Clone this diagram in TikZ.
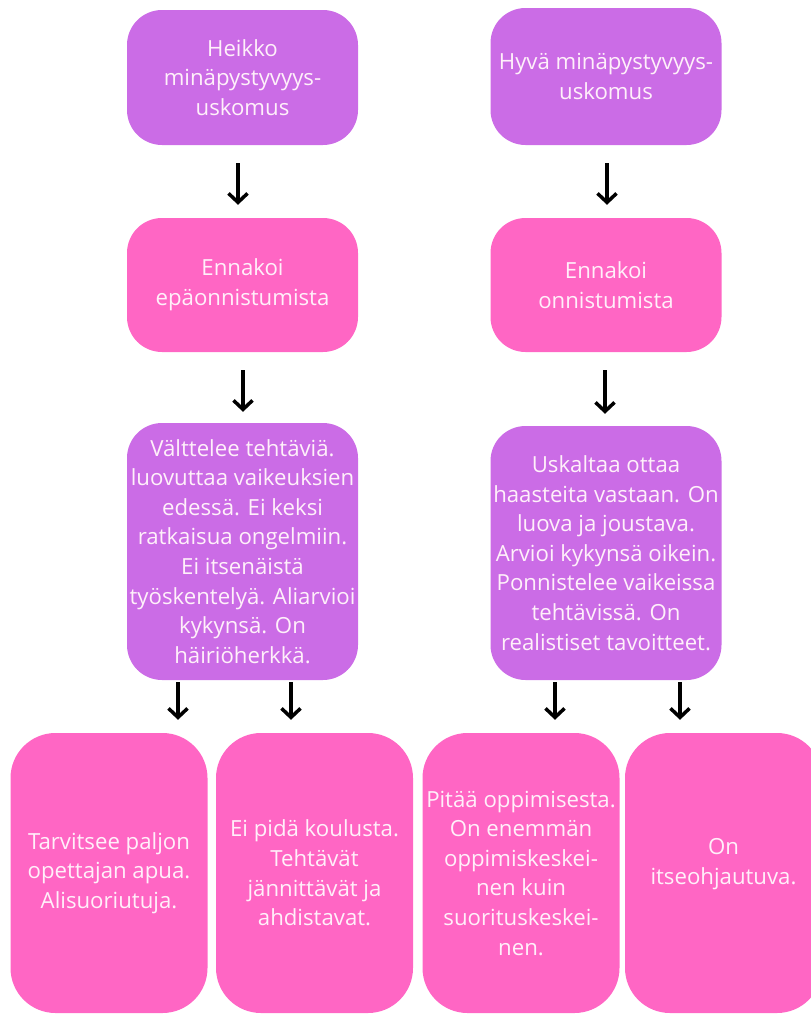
\documentclass[tikz,border=0pt]{standalone}
\usepackage{fontspec}
\setmainfont{Open Sans}
\usepackage{tikz}
\usetikzlibrary{arrows.meta}
\usetikzlibrary{positioning}
\definecolor{violetti}{RGB}{203,108,230}
\definecolor{pinkki}{RGB}{255,102,196}
\definecolor{teksti}{RGB}{255,240,250}
\newcommand{\laatikkofont}{\fontsize{22.2pt}{29.6pt}\selectfont\lineskiplimit=-20pt\relax}
\tikzstyle{tran}  = [
    draw,
    ->,
    >={Straight Barb[length=9pt,width=19pt]},
    line width=3.5pt
]
\tikzstyle{laatikko}  = [
    shape=rectangle,
    rounded corners=35pt,
    text=teksti,
    align=center,
    inner sep=0pt,
    font=\laatikkofont
]
\tikzstyle{uskomus} = [laatikko, fill=violetti, minimum width=231pt]
\tikzstyle{ennakko} = [laatikko, fill=pinkki, minimum width=231pt, minimum height=134pt]
\tikzstyle{seuraus} = [laatikko, fill=pinkki, rounded corners=45pt, minimum width=197pt, minimum height=280pt]

\begin{document}
\begin{tikzpicture}[x=1pt, y=-1pt]
\useasboundingbox (0,0) rectangle (811,1015);

\node[uskomus, minimum height=135pt] (heikko)  at (242.5,77.5) {Heikko\\minäpystyvyys-\\uskomus};
\node[uskomus, minimum height=137pt] (hyva)    at (606,76.5)   {Hyvä minäpystyvyys-\\uskomus};

\node[ennakko] (epaon)  at (242.5,285) {Ennakoi\\epäonnistumista};
\node[ennakko] (onnis)  at (606,285)   {Ennakoi\\onnistumista};

\node[uskomus, minimum height=257pt] (valttelee) at (242.5,551.5) {Välttelee tehtäviä.\\luovuttaa vaikeuksien\\edessä. Ei keksi\\ratkaisua ongelmiin.\\Ei itsenäistä\\työskentelyä. Aliarvioi\\kykynsä. On\\häiriöherkkä.};
\node[uskomus, minimum height=254pt] (uskaltaa)  at (606,553)     {Uskaltaa ottaa\\haasteita vastaan. On\\luova ja joustava.\\Arvioi kykynsä oikein.\\Ponnistelee vaikeissa\\tehtävissä. On\\realistiset tavoitteet.};

\node[seuraus] (apua)    at (109,873)   {Tarvitsee paljon\\opettajan apua.\\Alisuoriutuja.};
\node[seuraus] (koulu)   at (314.5,873) {Ei pidä koulusta.\\Tehtävät\\jännittävät ja\\ahdistavat.};
\node[seuraus] (oppim)   at (521,873)   {Pitää oppimisesta.\\On enemmän\\oppimiskeskei-\\nen kuin\\suorituskeskei-\\nen.};
\node[seuraus] (itseohj) at (723.5,873) {On\\itseohjautuva.\\[-6pt]};

\draw[tran] ([xshift=-4.5pt,yshift=-18pt]heikko.south) -- ([xshift=-4.5pt,yshift=13pt]epaon.north);
\draw[tran] ([xshift=1pt,yshift=-18pt]hyva.south)      -- ([xshift=1pt,yshift=13pt]onnis.north);
\draw[tran] ([xshift=0.5pt,yshift=-18pt]epaon.south)   -- ([xshift=0.5pt,yshift=11pt]valttelee.north);
\draw[tran] ([xshift=-1pt,yshift=-18pt]onnis.south)    -- ([xshift=-1pt,yshift=12pt]uskaltaa.north);

\draw[tran] ([xshift=-64.5pt,yshift=-2pt]valttelee.south) -- ([xshift=69pt,yshift=13pt]apua.north);
\draw[tran] ([xshift=48.5pt,yshift=-2pt]valttelee.south)  -- ([xshift=-23.5pt,yshift=13pt]koulu.north);
\draw[tran] ([xshift=-51pt,yshift=-2pt]uskaltaa.south)    -- ([xshift=34pt,yshift=13pt]oppim.north);
\draw[tran] ([xshift=74pt,yshift=-2pt]uskaltaa.south)     -- ([xshift=-43.5pt,yshift=13pt]itseohj.north);

\end{tikzpicture}
\end{document}
